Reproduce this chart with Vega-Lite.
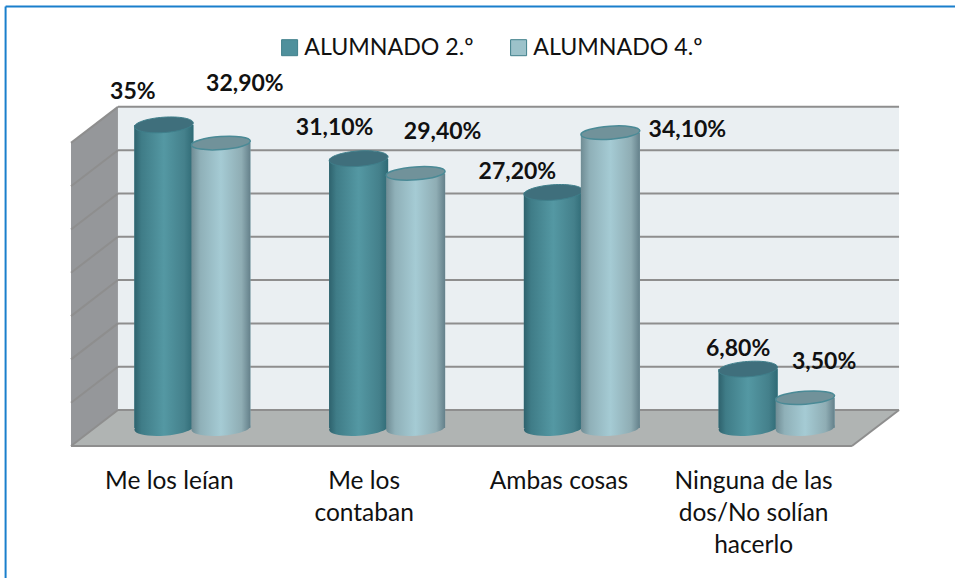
{
"$schema":"https://vega.github.io/schema/vega-lite/v6.json",
"width":955,"height":578,"padding":0,
"autosize":{"type":"none"},
"background":"white",
"config":{"view":{"stroke":null},"text":{"font":"Lato"}},
"datasets":{
"bars":[
{"categoria":"Me los leían","serie":"ALUMNADO 2.º","valor":35,"etiqueta":"35%"},
{"categoria":"Me los leían","serie":"ALUMNADO 4.º","valor":32.9,"etiqueta":"32,90%"},
{"categoria":"Me los contaban","serie":"ALUMNADO 2.º","valor":31.1,"etiqueta":"31,10%"},
{"categoria":"Me los contaban","serie":"ALUMNADO 4.º","valor":29.4,"etiqueta":"29,40%"},
{"categoria":"Ambas cosas","serie":"ALUMNADO 2.º","valor":27.2,"etiqueta":"27,20%"},
{"categoria":"Ambas cosas","serie":"ALUMNADO 4.º","valor":34.1,"etiqueta":"34,10%"},
{"categoria":"Ninguna de las dos/No solían hacerlo","serie":"ALUMNADO 2.º","valor":6.8,"etiqueta":"6,80%"},
{"categoria":"Ninguna de las dos/No solían hacerlo","serie":"ALUMNADO 4.º","valor":3.5,"etiqueta":"3,50%"}
],
"cats":[
{"categoria":"Me los leían","rotulo":"Me los leían"},
{"categoria":"Me los contaban","rotulo":"Me los\ncontaban"},
{"categoria":"Ambas cosas","rotulo":"Ambas cosas"},
{"categoria":"Ninguna de las dos/No solían hacerlo","rotulo":"Ninguna de las\ndos/No solían\nhacerlo"}
],
"grid":[
{"id":"b0","u":-0.383,"v":2.08},{"id":"b0","u":3.629,"v":2.08},
{"id":"b1","u":-0.383,"v":7.08},{"id":"b1","u":3.629,"v":7.08},
{"id":"b2","u":-0.383,"v":12.08},{"id":"b2","u":3.629,"v":12.08},
{"id":"b3","u":-0.383,"v":17.08},{"id":"b3","u":3.629,"v":17.08},
{"id":"b4","u":-0.383,"v":22.08},{"id":"b4","u":3.629,"v":22.08},
{"id":"b5","u":-0.383,"v":27.08},{"id":"b5","u":3.629,"v":27.08},
{"id":"b6","u":-0.383,"v":32.08},{"id":"b6","u":3.629,"v":32.08},
{"id":"b7","u":-0.383,"v":37.08},{"id":"b7","u":3.629,"v":37.08},
{"id":"l0","u":-0.624,"v":-2.08},{"id":"l0","u":-0.383,"v":2.08},
{"id":"l1","u":-0.624,"v":2.92},{"id":"l1","u":-0.383,"v":7.08},
{"id":"l2","u":-0.624,"v":7.92},{"id":"l2","u":-0.383,"v":12.08},
{"id":"l3","u":-0.624,"v":12.92},{"id":"l3","u":-0.383,"v":17.08},
{"id":"l4","u":-0.624,"v":17.92},{"id":"l4","u":-0.383,"v":22.08},
{"id":"l5","u":-0.624,"v":22.92},{"id":"l5","u":-0.383,"v":27.08},
{"id":"l6","u":-0.624,"v":27.92},{"id":"l6","u":-0.383,"v":32.08},
{"id":"l7","u":-0.624,"v":32.92},{"id":"l7","u":-0.383,"v":37.08},
{"id":"f0","u":-0.624,"v":-2.08},{"id":"f0","u":3.387,"v":-2.08},
{"id":"f1","u":3.387,"v":-2.08},{"id":"f1","u":3.629,"v":2.08}
]
},
"resolve":{"scale":{"x":"independent"}},
"layer":[
{
"encoding":{
"x":{"field":"u","type":"quantitative","axis":null,"scale":{"domain":[-0.9887,3.9164],"nice":false,"zero":false}},
"y":{"field":"v","type":"quantitative","axis":null,"stack":null,"scale":{"domain":[-17.32,49.42],"nice":false,"zero":false}}
},
"layer":[
{"data":{"values":[{"u":-0.383,"v":2.08,"v2":37.08},{"u":3.629,"v":2.08,"v2":37.08}]},
 "mark":{"type":"area","orient":"vertical","color":"#eaeff2"},
 "encoding":{"y2":{"field":"v2"}}},
{"data":{"values":[{"u":-0.624,"v":-2.08,"v2":32.92},{"u":-0.383,"v":2.08,"v2":37.08}]},
 "mark":{"type":"area","orient":"vertical","color":"#95979a"},
 "encoding":{"y2":{"field":"v2"}}},
{"data":{"values":[{"u":-0.624,"v":-2.08,"v2":-2.08},{"u":-0.383,"v":-2.08,"v2":2.08},{"u":3.387,"v":-2.08,"v2":2.08},{"u":3.629,"v":2.08,"v2":2.08}]},
 "mark":{"type":"area","orient":"vertical","color":"#b0b4b3"},
 "encoding":{"y2":{"field":"v2"}}},
{"data":{"name":"grid"},
 "mark":{"type":"line","color":"#8e8e8e","strokeWidth":2},
 "encoding":{"detail":{"field":"id"}}},
{"data":{"values":[{"id":"t","u":-0.96,"v":48.67},{"id":"t","u":3.9164,"v":48.67},{"id":"i","u":-0.96,"v":48.67},{"id":"i","u":-0.96,"v":-17.32}]},
 "mark":{"type":"line","color":"#1a7fcc","strokeWidth":2},
 "encoding":{"detail":{"field":"id"}}}
]
},
{
"data":{"name":"bars"},
"encoding":{
"x":{"field":"categoria","type":"nominal","sort":null,"axis":null,
 "scale":{"domain":["Me los leían","Me los contaban","Ambas cosas","Ninguna de las dos/No solían hacerlo"],"range":[95,874],"paddingInner":0,"paddingOuter":0}},
"xOffset":{"field":"serie","type":"nominal","sort":null,"scale":{"domain":["ALUMNADO 2.º","ALUMNADO 4.º"],"paddingInner":0,"paddingOuter":0.708}},
"y":{"field":"valor","type":"quantitative","axis":null,"stack":null,"scale":{"domain":[-17.32,49.42],"nice":false,"zero":false}}
},
"layer":[
{"mark":{"type":"bar","size":59},
 "encoding":{"y2":{"datum":0},
 "color":{"field":"serie","type":"nominal","sort":null,
  "scale":{"domain":["ALUMNADO 2.º","ALUMNADO 4.º"],"range":["#4f909c","#9cc2ca"]},
  "legend":{"title":null,"orient":"none","legendX":278,"legendY":36,"direction":"horizontal","symbolType":"square","symbolSize":256,"symbolStrokeWidth":1,"labelFont":"Lato","labelFontSize":23.2,"labelLimit":400,"labelColor":"#111111","columnPadding":33,"symbolStrokeColor":"#3f7f8b","labelOffset":3}}}},
{"transform":[{"filter":"datum.serie === 'ALUMNADO 2.º'"}],
 "mark":{"type":"point","filled":true,"opacity":1,"size":3481,"shape":"M-0.9976,0.07 A1,0.26 -4 1 0 0.9976,-0.07 A1,0.26 -4 1 0 -0.9976,0.07 Z",
  "color":{"gradient":"linear","x1":0,"x2":1,"y1":0,"y2":0,"stops":[{"offset":0,"color":"#2e626d"},{"offset":0.12,"color":"#3f7c87"},{"offset":0.5,"color":"#5498a3"},{"offset":0.85,"color":"#44808b"},{"offset":1,"color":"#2f6a75"}]}},
 "encoding":{"y":{"datum":0}}},
{"transform":[{"filter":"datum.serie === 'ALUMNADO 2.º'"}],
 "mark":{"type":"bar","size":59,
  "color":{"gradient":"linear","x1":0,"x2":1,"y1":0,"y2":0,"stops":[{"offset":0,"color":"#2e626d"},{"offset":0.12,"color":"#3f7c87"},{"offset":0.5,"color":"#5498a3"},{"offset":0.85,"color":"#44808b"},{"offset":1,"color":"#2f6a75"}]}},
 "encoding":{"y2":{"datum":0}}},
{"transform":[{"filter":"datum.serie === 'ALUMNADO 2.º'"}],
 "mark":{"type":"point","filled":true,"opacity":1,"size":3481,"color":"#3f6f7c","stroke":"#3f7f8b","strokeWidth":1,"shape":"M-0.9976,0.07 A1,0.26 -4 1 0 0.9976,-0.07 A1,0.26 -4 1 0 -0.9976,0.07 Z"}},
{"transform":[{"filter":"datum.serie === 'ALUMNADO 4.º'"}],
 "mark":{"type":"point","filled":true,"opacity":1,"size":3481,"shape":"M-0.9976,0.07 A1,0.26 -4 1 0 0.9976,-0.07 A1,0.26 -4 1 0 -0.9976,0.07 Z",
  "color":{"gradient":"linear","x1":0,"x2":1,"y1":0,"y2":0,"stops":[{"offset":0,"color":"#6f8c94"},{"offset":0.15,"color":"#8fb0b8"},{"offset":0.5,"color":"#a5cbd4"},{"offset":0.85,"color":"#8fadb4"},{"offset":1,"color":"#64808a"}]}},
 "encoding":{"y":{"datum":0}}},
{"transform":[{"filter":"datum.serie === 'ALUMNADO 4.º'"}],
 "mark":{"type":"bar","size":59,
  "color":{"gradient":"linear","x1":0,"x2":1,"y1":0,"y2":0,"stops":[{"offset":0,"color":"#6f8c94"},{"offset":0.15,"color":"#8fb0b8"},{"offset":0.5,"color":"#a5cbd4"},{"offset":0.85,"color":"#8fadb4"},{"offset":1,"color":"#64808a"}]}},
 "encoding":{"y2":{"datum":0}}},
{"transform":[{"filter":"datum.serie === 'ALUMNADO 4.º'"}],
 "mark":{"type":"point","filled":true,"opacity":1,"size":3481,"color":"#71929a","stroke":"#4a8a96","strokeWidth":1.5,"shape":"M-0.9976,0.07 A1,0.22 -4 1 0 0.9976,-0.07 A1,0.22 -4 1 0 -0.9976,0.07 Z"}},
{"transform":[{"filter":"datum.etiqueta === '35%'"}],"mark":{"type":"text","fontWeight":"bold","fontSize":23,"color":"#111111","dx":-31,"dy":-33},"encoding":{"text":{"field":"etiqueta"}}},
{"transform":[{"filter":"datum.etiqueta === '32,90%'"}],"mark":{"type":"text","fontWeight":"bold","fontSize":23,"color":"#111111","dx":24,"dy":-59},"encoding":{"text":{"field":"etiqueta"}}},
{"transform":[{"filter":"datum.etiqueta === '31,10%'"}],"mark":{"type":"text","fontWeight":"bold","fontSize":23,"color":"#111111","dx":-24,"dy":-31},"encoding":{"text":{"field":"etiqueta"}}},
{"transform":[{"filter":"datum.etiqueta === '29,40%'"}],"mark":{"type":"text","fontWeight":"bold","fontSize":23,"color":"#111111","dx":27,"dy":-41},"encoding":{"text":{"field":"etiqueta"}}},
{"transform":[{"filter":"datum.etiqueta === '27,20%'"}],"mark":{"type":"text","fontWeight":"bold","fontSize":23,"color":"#111111","dx":-36,"dy":-20},"encoding":{"text":{"field":"etiqueta"}}},
{"transform":[{"filter":"datum.etiqueta === '34,10%'"}],"mark":{"type":"text","fontWeight":"bold","fontSize":23,"color":"#111111","dx":77,"dy":-3},"encoding":{"text":{"field":"etiqueta"}}},
{"transform":[{"filter":"datum.etiqueta === '6,80%'"}],"mark":{"type":"text","fontWeight":"bold","fontSize":23,"color":"#111111","dx":-10,"dy":-20},"encoding":{"text":{"field":"etiqueta"}}},
{"transform":[{"filter":"datum.etiqueta === '3,50%'"}],"mark":{"type":"text","fontWeight":"bold","fontSize":23,"color":"#111111","dx":19,"dy":-36},"encoding":{"text":{"field":"etiqueta"}}}
]
},
{
"data":{"name":"cats"},
"mark":{"type":"text","font":"Lato","fontSize":24.5,"color":"#111111","align":"center","baseline":"top","lineBreak":"\n","lineHeight":32},
"encoding":{
"x":{"field":"categoria","type":"nominal","sort":null,"axis":null,
 "scale":{"domain":["Me los leían","Me los contaban","Ambas cosas","Ninguna de las dos/No solían hacerlo"],"range":[72,851],"paddingInner":0,"paddingOuter":0}},
"y":{"datum":-4.8,"type":"quantitative","axis":null,"scale":{"domain":[-17.32,49.42],"nice":false,"zero":false}},
"text":{"field":"rotulo"}
}
}
]
}
